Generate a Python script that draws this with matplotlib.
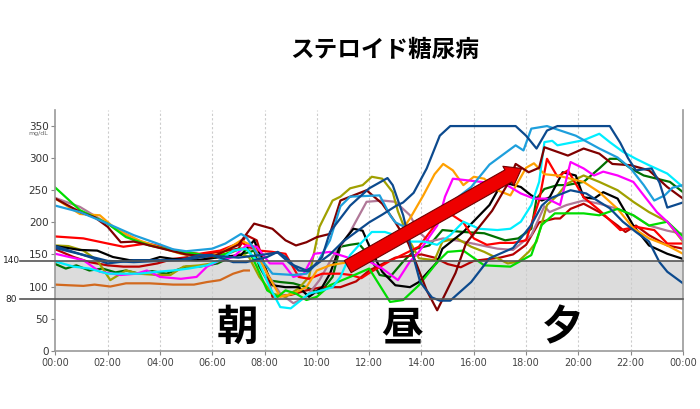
import matplotlib
matplotlib.use('Agg')
import matplotlib.pyplot as plt
from matplotlib.transforms import blended_transform_factory

plt.rcParams['font.family'] = ['Noto Sans CJK JP', 'DejaVu Sans']
narrow = ['Liberation Sans Narrow', 'DejaVu Sans']

title = "ステロイド糖尿病"
meal_labels = ["朝", "昼", "夕"]
meal_hours = [6.98, 13.25, 19.4]
tick_hours = list(range(0, 25, 2))
tick_labels = ["00:00", "02:00", "04:00", "06:00", "08:00", "10:00", "12:00",
               "14:00", "16:00", "18:00", "20:00", "22:00", "00:00"]
y_ticks = [0, 50, 100, 150, 200, 250, 300, 350]
target_low, target_high = 80, 140

# glucose traces (hours, mg/dL)
t_lime = [0, 0.94, 2, 2.7, 3.6, 4.5, 5.4, 6, 6.5, 7.1, 7.4, 7.7, 8.1, 8.5, 8.8, 9.2, 9.6, 10, 10.5, 11.27, 12,
          12.8, 13.3, 13.9, 14.6, 15, 15.6, 16.4, 17.4, 18.2, 18.6, 19.1, 20.2, 20.8, 21.5, 22.1, 22.7, 23.4, 24]
v_lime = [254, 219, 198, 177, 164, 156, 151, 146, 151, 159, 156, 131, 94, 84, 94, 89, 79, 84, 102, 115, 128,
          76, 79, 102, 138, 154, 156, 133, 131, 149, 196, 214, 214, 211, 221, 211, 195, 201, 178]

t_orange = [0, 0.94, 1.7, 2.3, 3.2, 3.9, 4.8, 5.5, 6.3, 7.1, 7.6, 8.1, 8.6, 9.1, 9.6, 10, 10.5, 10.9, 11.5, 12,
            12.7, 13.2, 13.56, 14.07, 14.5, 14.83, 15.2, 15.6, 16, 16.4, 16.9, 17.4, 18, 18.3, 18.7, 19.2, 20.2,
            20.8, 21.5, 22.1, 22.7, 23.4, 24]
v_orange = [237, 213, 211, 190, 172, 162, 151, 146, 151, 172, 162, 120, 84, 89, 99, 125, 133, 136, 140, 150,
            160, 185, 206, 242, 275, 291, 281, 258, 271, 268, 250, 242, 285, 292, 275, 273, 263,
            247, 221, 191, 175, 164, 151]

t_mauve = [0, 0.94, 2, 3, 3.9, 4.8, 5.5, 6.3, 7.1, 7.6, 8.1, 8.6, 9.1, 9.6, 10.1, 10.6, 10.9, 11.27, 11.9, 12.5,
           13, 13.56, 13.9, 14.3, 14.83, 15.6, 16.9, 17.5, 18.2, 18.7, 18.9, 19.55, 20.2, 20.8, 21.5, 22.1,
           22.7, 23.4, 24]
v_mauve = [238, 224, 198, 172, 164, 154, 141, 146, 159, 159, 120, 89, 74, 84, 110, 146, 162, 185, 232, 234,
           232, 211, 185, 170, 175, 170, 159, 157, 180, 225, 216, 227, 234, 229, 221, 211,
           195, 187, 182]

t_maroon = [0, 1, 1.5, 2, 2.5, 3, 4, 5, 6, 7, 7.6, 8.3, 8.8, 9.2, 9.6, 10, 10.5, 10.9, 11.4, 11.9, 12.5, 13,
            13.5, 14.2, 14.6, 15.3, 15.7, 16.7, 17.3, 17.6, 18.1, 18.5, 18.7, 19.6, 20.2, 20.8, 21.3, 22,
            22.7, 23.4, 24]
v_maroon = [237, 215, 208, 193, 169, 170, 160, 150, 146, 165, 198, 190, 172, 164, 169, 177, 182, 234, 242, 250,
            229, 200, 167, 94, 63, 121, 167, 218, 260, 291, 278, 285, 317, 304, 315, 307, 291, 289,
            281, 255, 237]

t_sky = [0, 0.94, 2, 3, 3.9, 4.5, 5, 6, 6.5, 7.1, 7.3, 7.8, 8.3, 9.1, 9.6, 10, 10.5, 10.9, 11.27, 12.4, 12.8,
         13.0, 13.5, 14, 14.5, 15.1, 15.9, 16.6, 17.6, 17.9, 18.2, 18.8, 19.9, 20.8, 21.5, 22, 22.5, 22.9,
         23.3, 23.6, 24]
v_sky = [226, 216, 198, 180, 167, 158, 155, 159, 167, 182, 177, 146, 120, 118, 120, 136, 172, 225, 240, 242, 211,
         200, 190, 195, 215, 230, 255, 290, 320, 312, 346, 350, 335, 315, 301, 284, 258, 234,
         242, 254, 258]

t_red = [0, 1.07, 2, 2.6, 3.5, 4.3, 4.8, 5.5, 6.3, 7.1, 7.4, 7.8, 8.3, 8.8, 9.3, 9.7, 10.2, 10.9, 11.3, 11.7,
         12, 12.8, 13.3, 13.9, 14.6, 15, 15.6, 16, 16.5, 17, 17.5, 18, 18.5, 18.8, 19.2, 19.6, 20.2, 20.8,
         21.6, 22.2, 22.9, 23.4, 24]
v_red = [178, 175, 167, 162, 167, 159, 154, 151, 156, 169, 162, 156, 154, 151, 115, 112, 120, 120, 118, 113,
         121, 140, 150, 162, 200, 216, 200, 175, 165, 168, 168, 172, 234, 299, 271, 281, 239, 219,
         188, 193, 188, 167, 167]

t_red2 = [0, 0.7, 1.3, 2, 2.6, 3.2, 3.9, 4.5, 5.1, 5.8, 6.3, 7, 7.3, 7.7, 8.1, 8.3, 9, 9.6, 10.2, 10.9, 11.5,
          12, 13, 14, 14.5, 15, 15.5, 16, 17, 17.5, 18, 18.5, 19.1, 19.3, 19.7, 20.2, 20.8, 21.5, 21.8, 22.2,
          22.7, 23.4, 24]
v_red2 = [158, 146, 138, 133, 131, 131, 136, 143, 146, 151, 154, 159, 180, 172, 120, 84, 87, 94, 99, 99, 108,
          125, 145, 150, 145, 135, 130, 140, 145, 150, 165, 200, 206, 206, 221, 229, 216, 195, 185, 195,
          180, 164, 159]

t_black = [0, 0.94, 1.6, 2.2, 2.85, 3.6, 4, 4.5, 5.4, 6.3, 7.1, 7.6, 8, 8.3, 8.8, 9.3, 9.7, 10.2, 10.5, 10.9,
           11.4, 11.75, 12.1, 12.5, 13, 13.56, 13.9, 14.6, 14.8, 15.6, 16.6, 17.1, 17.8, 18.2, 18.6, 18.9,
           19.4, 19.9, 20.2, 20.6, 20.95, 21.5, 22.1, 22.7, 23.4, 24]
v_black = [163, 157, 156, 146, 141, 141, 146, 143, 141, 146, 149, 172, 131, 102, 99, 99, 84, 99, 120, 165,
           190, 187, 154, 123, 102, 99, 107, 138, 159, 185, 227, 263, 255, 242, 234, 239,
           278, 273, 239, 237, 247, 237, 195, 164, 151, 143]

t_navy = [0, 1.3, 2, 3, 3.9, 4.8, 5.5, 6, 6.8, 7.3, 8.1, 8.5, 8.8, 9.3, 9.7, 10.2, 10.5, 11.27, 12, 12.7, 12.9,
          13.3, 13.6, 13.95, 14.4, 14.7, 15.1, 15.9, 16.6, 17.5, 18.2, 18.6, 18.9, 19.7, 20.3, 20.8, 21.2,
          21.7, 22.2, 22.7, 23.1, 23.4, 24]
v_navy = [163, 146, 136, 141, 141, 141, 149, 149, 138, 138, 146, 154, 146, 125, 124, 146, 185, 226, 253, 269, 258,
          211, 160, 107, 83, 78, 78, 107, 144, 160, 196, 226, 237, 250, 245, 232, 222,
          201, 185, 170, 138, 123, 105]

t_navy2 = [0, 1, 2, 3, 4, 5, 6, 7, 8, 8.5, 9, 9.6, 10, 10.5, 11, 12, 12.5, 13, 13.3, 13.7, 14.2, 14.7, 15.1,
           17.6, 18, 18.4, 18.8, 19.2, 21.2, 21.6, 21.9, 22.2, 22.8, 23.1, 23.4, 24]
v_navy2 = [160, 150, 140, 138, 140, 142, 148, 145, 150, 153, 135, 125, 135, 150, 170, 200, 212, 225, 231, 246,
           284, 335, 350, 350, 335, 315, 343, 350, 350, 324, 300, 281, 284, 262, 223, 231]

t_olive = [0, 0.5, 1.07, 1.6, 2.1, 2.5, 2.7, 3.2, 3.9, 4.4, 4.9, 5.5, 6, 6.5, 7.1, 7.4, 7.8, 8.3, 8.8, 9.3, 9.7,
           10.1, 10.6, 10.9, 11.27, 11.75, 12.1, 12.5, 12.9, 13.1, 13.56, 13.9, 14.5, 14.8, 15.35, 15.9, 16.4,
           16.9, 17.3, 17.7, 18.1, 18.4, 18.8, 19.2, 19.55, 20.2, 20.8, 21.5, 22.1, 22.7, 23.4, 24]
v_olive = [164, 163, 156, 141, 110, 120, 125, 120, 118, 118, 131, 133, 136, 143, 151, 146, 115, 89, 84, 97, 115,
           193, 234, 240, 253, 258, 271, 268, 247, 217, 170, 144, 141, 170, 175, 162, 154,
           144, 136, 139, 154, 170, 227, 242, 260, 273, 263, 250, 232, 216, 201, 170]

t_magenta = [0, 1.07, 1.7, 2.5, 3.1, 3.5, 4, 4.8, 5.4, 5.8, 6.3, 6.8, 7.3, 7.7, 8.2, 8.7, 9.1, 9.5, 9.9, 10.5,
             11.27, 12, 12.5, 13.1, 13.56, 13.9, 14.6, 14.9, 15.2, 16.5, 17.1, 17.8, 18.3, 18.8, 19.3, 19.7,
             20.2, 20.6, 20.95, 21.5, 22.1, 22.5, 23, 23.4, 24]
v_magenta = [151, 141, 123, 118, 120, 125, 115, 112, 115, 131, 141, 146, 164, 162, 136, 136, 115, 120, 151, 154,
             144, 139, 128, 110, 139, 154, 195, 240, 268, 262, 262, 245, 237, 237, 227, 294,
             284, 273, 279, 273, 263, 242, 216, 201, 172]

t_cyan = [0, 0.7, 1.3, 2, 2.6, 3.2, 3.9, 4.5, 5.1, 5.8, 6.3, 6.8, 7.3, 7.8, 8.2, 8.6, 9, 9.4, 9.7, 10.2, 10.6,
          10.9, 11.27, 11.6, 12.1, 12.6, 13, 13.56, 14.1, 14.6, 15.1, 15.6, 16.2, 16.9, 17.4, 17.8, 18.2, 18.5,
          18.7, 19, 19.2, 19.7, 20.2, 20.8, 21.2, 21.7, 22.2, 22.7, 23.4, 24]
v_cyan = [139, 131, 128, 120, 120, 120, 123, 125, 128, 133, 141, 156, 159, 136, 99, 68, 66, 79, 89, 94, 99,
          115, 149, 164, 185, 185, 180, 170, 170, 165, 180, 201, 190, 188, 190, 201, 227, 263,
          325, 327, 320, 324, 328, 338, 325, 310, 299, 289, 276, 255]

t_dkgreen = [0, 0.4, 0.8, 1.3, 1.8, 2.3, 2.7, 3.2, 3.7, 4.25, 5, 5.5, 6.2, 6.7, 7.2, 7.6, 7.8, 8.1, 8.6, 9.1, 9.6,
             10.1, 10.6, 10.9, 11.27, 11.6, 12, 12.4, 12.8, 13.3, 13.8, 14.3, 14.8, 15.6, 16.4, 17.2, 17.7, 18.2,
             18.4, 18.7, 19.2, 19.55, 20.2, 20.8, 21.2, 21.5, 22, 22.5, 23, 23.5, 24]
v_dkgreen = [135, 128, 133, 125, 128, 122, 125, 120, 124, 120, 131, 131, 136, 146, 151, 156, 131, 110, 107, 105, 99,
             89, 115, 162, 165, 167, 148, 118, 115, 139, 159, 164, 188, 185, 183, 172, 175, 190,
             237, 252, 258, 258, 263, 284, 299, 299, 284, 273, 268, 263, 247]

t_choc = [0, 0.5, 1.07, 1.5, 2.1, 2.7, 3.6, 4.5, 5.3, 5.8, 6.3, 6.8, 7.2, 7.4]
v_choc = [103, 102, 101, 103, 100, 105, 105, 103, 103, 107, 110, 120, 125, 125]

series = [
    (t_choc, v_choc, '#d2691e'),
    (t_dkgreen, v_dkgreen, '#007000'),
    (t_red2, v_red2, '#b80000'),
    (t_mauve, v_mauve, '#b07898'),
    (t_olive, v_olive, '#a0a000'),
    (t_black, v_black, '#000000'),
    (t_red, v_red, '#ff0000'),
    (t_orange, v_orange, '#ffa000'),
    (t_lime, v_lime, '#00dd00'),
    (t_magenta, v_magenta, '#ff00ff'),
    (t_cyan, v_cyan, '#00eeff'),
    (t_maroon, v_maroon, '#800000'),
    (t_sky, v_sky, '#1e9fdc'),
    (t_navy, v_navy, '#0c4a8e'),
    (t_navy2, v_navy2, '#0c4a8e'),
]

fig = plt.figure(figsize=(7, 4.09), dpi=100)
ax = fig.add_axes([0.0791, 0.1425, 0.8966, 0.5885])

ax.axhspan(target_low, target_high, color='#dcdcdc', zorder=0)
for h in tick_hours[1:-1]:
    ax.axvline(h, color='#cccccc', lw=0.8, ls=(0, (2, 2)), zorder=0.5)

for t, v, c in series:
    ax.plot(t, v, color=c, lw=1.6, zorder=2)

for y in (target_low, target_high):
    ax.axhline(y, xmin=-0.056, xmax=1, color='#555555', lw=1.2, clip_on=False, zorder=3)

trans = blended_transform_factory(ax.transAxes, ax.transData)
ax.text(-0.084, target_high, "140", transform=trans, ha='left', va='center',
        fontsize=6.5, color='#222222', family='DejaVu Sans')
ax.text(-0.062, target_low, "80", transform=trans, ha='right', va='center',
        fontsize=6.5, color='#222222', family='DejaVu Sans')
ax.text(-0.012, 338, "mg/dL", transform=trans, ha='right', va='center',
        fontsize=4.5, color='#666666', family=narrow)

ax.annotate('', xy=(17.83, 284), xytext=(11.18, 131),
            arrowprops=dict(arrowstyle='simple,head_length=1.1,head_width=1.6,tail_width=1.0',
                            mutation_scale=10, fc='#ee0000', ec='#700000', lw=0.8,
                            shrinkA=0, shrinkB=0),
            zorder=5)

for lab, h in zip(meal_labels, meal_hours):
    ax.text(h, 35, lab, ha='center', va='center', fontsize=30, fontweight='bold', zorder=4)

ax.set_xlim(0, 24)
ax.set_ylim(0, 375)
ax.set_xticks(tick_hours)
ax.set_xticklabels(tick_labels, fontsize=7, color='#444444', family=narrow)
ax.set_yticks(y_ticks)
ax.set_yticklabels([str(y) for y in y_ticks], fontsize=7.5, color='#333333', family=narrow)
ax.tick_params(axis='both', length=3, width=0.8, color='#888888', pad=2)
ax.spines['top'].set_visible(False)
for s in ('left', 'bottom', 'right'):
    ax.spines[s].set_color('#999999')
    ax.spines[s].set_linewidth(1.2)

fig.text(0.55, 0.878, title, ha='center', va='center', fontsize=17, fontweight='bold')

fig.savefig("out.png", dpi=100)
